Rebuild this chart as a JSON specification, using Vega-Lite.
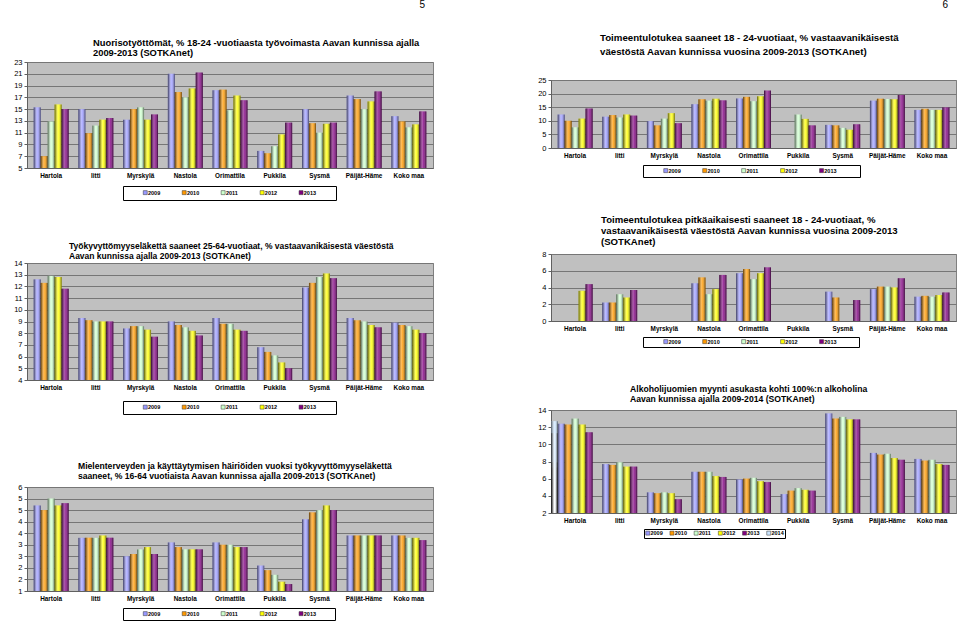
{
  "$schema": "https://vega.github.io/schema/vega-lite/v6.json",
  "background": "white",
  "padding": {"left": 4, "top": 0, "right": 0, "bottom": 0},
  "config": {
    "font": "Liberation Sans",
    "view": {"stroke": null},
    "axis": {"labelColor": "#000", "domainColor": "#606060", "tickColor": "#606060", "gridColor": "#767676", "gridOpacity": 1},
    "axisX": {"labelAngle": 0, "labelFontWeight": "bold", "labelFontSize": 6.4, "ticks": false, "grid": false, "labelPadding": 4.5, "title": null},
    "axisY": {"labelFontSize": 7.5, "tickSize": 3, "labelPadding": 2, "grid": true, "minExtent": 22, "maxExtent": 22, "title": null},
    "title": {"fontWeight": "bold", "color": "#000", "anchor": "start", "frame": "group"},
    "legend": {"orient": "none", "direction": "horizontal", "symbolType": "square", "symbolSize": 16, "symbolStrokeColor": "#333", "symbolStrokeWidth": 0.5, "labelFontSize": 5.5, "labelFontWeight": "bold", "labelColor": "#000", "labelOffset": 0, "strokeColor": "#000", "fillColor": "#fff", "titleOrient": "left", "titleFontSize": 5.5, "titleColor": "#fff"}
  },
  "datasets": {
    "nuoriso": [
      {"kunta":"Hartola","vuosi":"2009","arvo":15.3},{"kunta":"Hartola","vuosi":"2010","arvo":7.0},{"kunta":"Hartola","vuosi":"2011","arvo":12.9},{"kunta":"Hartola","vuosi":"2012","arvo":15.8},{"kunta":"Hartola","vuosi":"2013","arvo":15.0},
      {"kunta":"Iitti","vuosi":"2009","arvo":15.0},{"kunta":"Iitti","vuosi":"2010","arvo":10.9},{"kunta":"Iitti","vuosi":"2011","arvo":12.2},{"kunta":"Iitti","vuosi":"2012","arvo":13.2},{"kunta":"Iitti","vuosi":"2013","arvo":13.5},
      {"kunta":"Myrskylä","vuosi":"2009","arvo":13.2},{"kunta":"Myrskylä","vuosi":"2010","arvo":15.0},{"kunta":"Myrskylä","vuosi":"2011","arvo":15.3},{"kunta":"Myrskylä","vuosi":"2012","arvo":13.2},{"kunta":"Myrskylä","vuosi":"2013","arvo":14.1},
      {"kunta":"Nastola","vuosi":"2009","arvo":21.0},{"kunta":"Nastola","vuosi":"2010","arvo":17.9},{"kunta":"Nastola","vuosi":"2011","arvo":17.0},{"kunta":"Nastola","vuosi":"2012","arvo":18.5},{"kunta":"Nastola","vuosi":"2013","arvo":21.2},
      {"kunta":"Orimattila","vuosi":"2009","arvo":18.2},{"kunta":"Orimattila","vuosi":"2010","arvo":18.3},{"kunta":"Orimattila","vuosi":"2011","arvo":14.8},{"kunta":"Orimattila","vuosi":"2012","arvo":17.3},{"kunta":"Orimattila","vuosi":"2013","arvo":16.5},
      {"kunta":"Pukkila","vuosi":"2009","arvo":7.9},{"kunta":"Pukkila","vuosi":"2010","arvo":7.5},{"kunta":"Pukkila","vuosi":"2011","arvo":8.7},{"kunta":"Pukkila","vuosi":"2012","arvo":10.7},{"kunta":"Pukkila","vuosi":"2013","arvo":12.7},
      {"kunta":"Sysmä","vuosi":"2009","arvo":15.0},{"kunta":"Sysmä","vuosi":"2010","arvo":12.6},{"kunta":"Sysmä","vuosi":"2011","arvo":11.0},{"kunta":"Sysmä","vuosi":"2012","arvo":12.5},{"kunta":"Sysmä","vuosi":"2013","arvo":12.7},
      {"kunta":"Päijät-Häme","vuosi":"2009","arvo":17.3},{"kunta":"Päijät-Häme","vuosi":"2010","arvo":16.7},{"kunta":"Päijät-Häme","vuosi":"2011","arvo":15.0},{"kunta":"Päijät-Häme","vuosi":"2012","arvo":16.3},{"kunta":"Päijät-Häme","vuosi":"2013","arvo":18.0},
      {"kunta":"Koko maa","vuosi":"2009","arvo":13.8},{"kunta":"Koko maa","vuosi":"2010","arvo":12.9},{"kunta":"Koko maa","vuosi":"2011","arvo":11.9},{"kunta":"Koko maa","vuosi":"2012","arvo":12.4},{"kunta":"Koko maa","vuosi":"2013","arvo":14.6}
    ],
    "toimeentulo": [
      {"kunta":"Hartola","vuosi":"2009","arvo":12.3},{"kunta":"Hartola","vuosi":"2010","arvo":10.0},{"kunta":"Hartola","vuosi":"2011","arvo":7.6},{"kunta":"Hartola","vuosi":"2012","arvo":10.8},{"kunta":"Hartola","vuosi":"2013","arvo":14.5},
      {"kunta":"Iitti","vuosi":"2009","arvo":11.5},{"kunta":"Iitti","vuosi":"2010","arvo":12.1},{"kunta":"Iitti","vuosi":"2011","arvo":11.2},{"kunta":"Iitti","vuosi":"2012","arvo":12.3},{"kunta":"Iitti","vuosi":"2013","arvo":11.9},
      {"kunta":"Myrskylä","vuosi":"2009","arvo":9.9},{"kunta":"Myrskylä","vuosi":"2010","arvo":8.3},{"kunta":"Myrskylä","vuosi":"2011","arvo":10.8},{"kunta":"Myrskylä","vuosi":"2012","arvo":12.8},{"kunta":"Myrskylä","vuosi":"2013","arvo":9.1},
      {"kunta":"Nastola","vuosi":"2009","arvo":16.1},{"kunta":"Nastola","vuosi":"2010","arvo":17.9},{"kunta":"Nastola","vuosi":"2011","arvo":17.4},{"kunta":"Nastola","vuosi":"2012","arvo":18.1},{"kunta":"Nastola","vuosi":"2013","arvo":17.5},
      {"kunta":"Orimattila","vuosi":"2009","arvo":18.2},{"kunta":"Orimattila","vuosi":"2010","arvo":18.8},{"kunta":"Orimattila","vuosi":"2011","arvo":17.2},{"kunta":"Orimattila","vuosi":"2012","arvo":19.0},{"kunta":"Orimattila","vuosi":"2013","arvo":21.1},
      {"kunta":"Pukkila","vuosi":"2011","arvo":12.3},{"kunta":"Pukkila","vuosi":"2012","arvo":10.7},{"kunta":"Pukkila","vuosi":"2013","arvo":8.3},
      {"kunta":"Sysmä","vuosi":"2009","arvo":8.5},{"kunta":"Sysmä","vuosi":"2010","arvo":8.3},{"kunta":"Sysmä","vuosi":"2011","arvo":7.4},{"kunta":"Sysmä","vuosi":"2012","arvo":6.7},{"kunta":"Sysmä","vuosi":"2013","arvo":8.7},
      {"kunta":"Päijät-Häme","vuosi":"2009","arvo":17.4},{"kunta":"Päijät-Häme","vuosi":"2010","arvo":18.1},{"kunta":"Päijät-Häme","vuosi":"2011","arvo":18.0},{"kunta":"Päijät-Häme","vuosi":"2012","arvo":17.9},{"kunta":"Päijät-Häme","vuosi":"2013","arvo":19.5},
      {"kunta":"Koko maa","vuosi":"2009","arvo":14.0},{"kunta":"Koko maa","vuosi":"2010","arvo":14.4},{"kunta":"Koko maa","vuosi":"2011","arvo":14.0},{"kunta":"Koko maa","vuosi":"2012","arvo":14.0},{"kunta":"Koko maa","vuosi":"2013","arvo":14.9}
    ],
    "tyokyvyttomyys": [
      {"kunta":"Hartola","vuosi":"2009","arvo":12.6},{"kunta":"Hartola","vuosi":"2010","arvo":12.3},{"kunta":"Hartola","vuosi":"2011","arvo":12.9},{"kunta":"Hartola","vuosi":"2012","arvo":12.8},{"kunta":"Hartola","vuosi":"2013","arvo":11.8},
      {"kunta":"Iitti","vuosi":"2009","arvo":9.3},{"kunta":"Iitti","vuosi":"2010","arvo":9.1},{"kunta":"Iitti","vuosi":"2011","arvo":9.0},{"kunta":"Iitti","vuosi":"2012","arvo":9.0},{"kunta":"Iitti","vuosi":"2013","arvo":9.0},
      {"kunta":"Myrskylä","vuosi":"2009","arvo":8.4},{"kunta":"Myrskylä","vuosi":"2010","arvo":8.6},{"kunta":"Myrskylä","vuosi":"2011","arvo":8.6},{"kunta":"Myrskylä","vuosi":"2012","arvo":8.3},{"kunta":"Myrskylä","vuosi":"2013","arvo":7.7},
      {"kunta":"Nastola","vuosi":"2009","arvo":9.0},{"kunta":"Nastola","vuosi":"2010","arvo":8.7},{"kunta":"Nastola","vuosi":"2011","arvo":8.5},{"kunta":"Nastola","vuosi":"2012","arvo":8.2},{"kunta":"Nastola","vuosi":"2013","arvo":7.8},
      {"kunta":"Orimattila","vuosi":"2009","arvo":9.3},{"kunta":"Orimattila","vuosi":"2010","arvo":8.8},{"kunta":"Orimattila","vuosi":"2011","arvo":8.8},{"kunta":"Orimattila","vuosi":"2012","arvo":8.3},{"kunta":"Orimattila","vuosi":"2013","arvo":8.2},
      {"kunta":"Pukkila","vuosi":"2009","arvo":6.8},{"kunta":"Pukkila","vuosi":"2010","arvo":6.4},{"kunta":"Pukkila","vuosi":"2011","arvo":6.1},{"kunta":"Pukkila","vuosi":"2012","arvo":5.5},{"kunta":"Pukkila","vuosi":"2013","arvo":5.0},
      {"kunta":"Sysmä","vuosi":"2009","arvo":11.9},{"kunta":"Sysmä","vuosi":"2010","arvo":12.3},{"kunta":"Sysmä","vuosi":"2011","arvo":12.8},{"kunta":"Sysmä","vuosi":"2012","arvo":13.1},{"kunta":"Sysmä","vuosi":"2013","arvo":12.7},
      {"kunta":"Päijät-Häme","vuosi":"2009","arvo":9.3},{"kunta":"Päijät-Häme","vuosi":"2010","arvo":9.1},{"kunta":"Päijät-Häme","vuosi":"2011","arvo":9.0},{"kunta":"Päijät-Häme","vuosi":"2012","arvo":8.7},{"kunta":"Päijät-Häme","vuosi":"2013","arvo":8.5},
      {"kunta":"Koko maa","vuosi":"2009","arvo":8.9},{"kunta":"Koko maa","vuosi":"2010","arvo":8.7},{"kunta":"Koko maa","vuosi":"2011","arvo":8.6},{"kunta":"Koko maa","vuosi":"2012","arvo":8.3},{"kunta":"Koko maa","vuosi":"2013","arvo":8.0}
    ],
    "pitkaaikainen": [
      {"kunta":"Hartola","vuosi":"2012","arvo":3.6},{"kunta":"Hartola","vuosi":"2013","arvo":4.4},
      {"kunta":"Iitti","vuosi":"2009","arvo":2.2},{"kunta":"Iitti","vuosi":"2010","arvo":2.2},{"kunta":"Iitti","vuosi":"2011","arvo":3.2},{"kunta":"Iitti","vuosi":"2012","arvo":2.8},{"kunta":"Iitti","vuosi":"2013","arvo":3.7},
      {"kunta":"Nastola","vuosi":"2009","arvo":4.5},{"kunta":"Nastola","vuosi":"2010","arvo":5.2},{"kunta":"Nastola","vuosi":"2011","arvo":3.2},{"kunta":"Nastola","vuosi":"2012","arvo":3.8},{"kunta":"Nastola","vuosi":"2013","arvo":5.5},
      {"kunta":"Orimattila","vuosi":"2009","arvo":5.7},{"kunta":"Orimattila","vuosi":"2010","arvo":6.2},{"kunta":"Orimattila","vuosi":"2011","arvo":5.0},{"kunta":"Orimattila","vuosi":"2012","arvo":5.7},{"kunta":"Orimattila","vuosi":"2013","arvo":6.4},
      {"kunta":"Sysmä","vuosi":"2009","arvo":3.5},{"kunta":"Sysmä","vuosi":"2010","arvo":2.8},{"kunta":"Sysmä","vuosi":"2013","arvo":2.5},
      {"kunta":"Päijät-Häme","vuosi":"2009","arvo":3.8},{"kunta":"Päijät-Häme","vuosi":"2010","arvo":4.1},{"kunta":"Päijät-Häme","vuosi":"2011","arvo":4.1},{"kunta":"Päijät-Häme","vuosi":"2012","arvo":4.0},{"kunta":"Päijät-Häme","vuosi":"2013","arvo":5.1},
      {"kunta":"Koko maa","vuosi":"2009","arvo":2.9},{"kunta":"Koko maa","vuosi":"2010","arvo":3.0},{"kunta":"Koko maa","vuosi":"2011","arvo":2.9},{"kunta":"Koko maa","vuosi":"2012","arvo":3.1},{"kunta":"Koko maa","vuosi":"2013","arvo":3.4}
    ],
    "alkoholi": [
      {"kunta":"Hartola","vuosi":"2009","arvo":12.4},{"kunta":"Hartola","vuosi":"2010","arvo":12.3},{"kunta":"Hartola","vuosi":"2011","arvo":13.0},{"kunta":"Hartola","vuosi":"2012","arvo":12.3},{"kunta":"Hartola","vuosi":"2013","arvo":11.4},{"kunta":"Hartola","vuosi":"2014","arvo":11.3},
      {"kunta":"Iitti","vuosi":"2009","arvo":7.7},{"kunta":"Iitti","vuosi":"2010","arvo":7.6},{"kunta":"Iitti","vuosi":"2011","arvo":7.9},{"kunta":"Iitti","vuosi":"2012","arvo":7.4},{"kunta":"Iitti","vuosi":"2013","arvo":7.4},{"kunta":"Iitti","vuosi":"2014","arvo":7.0},
      {"kunta":"Myrskylä","vuosi":"2009","arvo":4.4},{"kunta":"Myrskylä","vuosi":"2010","arvo":4.3},{"kunta":"Myrskylä","vuosi":"2011","arvo":4.4},{"kunta":"Myrskylä","vuosi":"2012","arvo":4.3},{"kunta":"Myrskylä","vuosi":"2013","arvo":3.6},{"kunta":"Myrskylä","vuosi":"2014","arvo":3.8},
      {"kunta":"Nastola","vuosi":"2009","arvo":6.8},{"kunta":"Nastola","vuosi":"2010","arvo":6.8},{"kunta":"Nastola","vuosi":"2011","arvo":6.8},{"kunta":"Nastola","vuosi":"2012","arvo":6.3},{"kunta":"Nastola","vuosi":"2013","arvo":6.2},{"kunta":"Nastola","vuosi":"2014","arvo":6.0},
      {"kunta":"Orimattila","vuosi":"2009","arvo":5.9},{"kunta":"Orimattila","vuosi":"2010","arvo":6.0},{"kunta":"Orimattila","vuosi":"2011","arvo":6.1},{"kunta":"Orimattila","vuosi":"2012","arvo":5.7},{"kunta":"Orimattila","vuosi":"2013","arvo":5.6},{"kunta":"Orimattila","vuosi":"2014","arvo":5.6},
      {"kunta":"Pukkila","vuosi":"2009","arvo":4.2},{"kunta":"Pukkila","vuosi":"2010","arvo":4.6},{"kunta":"Pukkila","vuosi":"2011","arvo":4.9},{"kunta":"Pukkila","vuosi":"2012","arvo":4.7},{"kunta":"Pukkila","vuosi":"2013","arvo":4.6},{"kunta":"Pukkila","vuosi":"2014","arvo":4.8},
      {"kunta":"Sysmä","vuosi":"2009","arvo":13.6},{"kunta":"Sysmä","vuosi":"2010","arvo":13.0},{"kunta":"Sysmä","vuosi":"2011","arvo":13.2},{"kunta":"Sysmä","vuosi":"2012","arvo":12.9},{"kunta":"Sysmä","vuosi":"2013","arvo":12.9},{"kunta":"Sysmä","vuosi":"2014","arvo":12.7},
      {"kunta":"Päijät-Häme","vuosi":"2009","arvo":9.0},{"kunta":"Päijät-Häme","vuosi":"2010","arvo":8.8},{"kunta":"Päijät-Häme","vuosi":"2011","arvo":8.9},{"kunta":"Päijät-Häme","vuosi":"2012","arvo":8.4},{"kunta":"Päijät-Häme","vuosi":"2013","arvo":8.2},{"kunta":"Päijät-Häme","vuosi":"2014","arvo":7.9},
      {"kunta":"Koko maa","vuosi":"2009","arvo":8.3},{"kunta":"Koko maa","vuosi":"2010","arvo":8.1},{"kunta":"Koko maa","vuosi":"2011","arvo":8.2},{"kunta":"Koko maa","vuosi":"2012","arvo":7.7},{"kunta":"Koko maa","vuosi":"2013","arvo":7.6},{"kunta":"Koko maa","vuosi":"2014","arvo":7.3}
    ],
    "mielenterveys": [
      {"kunta":"Hartola","vuosi":"2009","arvo":4.7},{"kunta":"Hartola","vuosi":"2010","arvo":4.5},{"kunta":"Hartola","vuosi":"2011","arvo":5.0},{"kunta":"Hartola","vuosi":"2012","arvo":4.7},{"kunta":"Hartola","vuosi":"2013","arvo":4.8},
      {"kunta":"Iitti","vuosi":"2009","arvo":3.3},{"kunta":"Iitti","vuosi":"2010","arvo":3.3},{"kunta":"Iitti","vuosi":"2011","arvo":3.3},{"kunta":"Iitti","vuosi":"2012","arvo":3.4},{"kunta":"Iitti","vuosi":"2013","arvo":3.3},
      {"kunta":"Myrskylä","vuosi":"2009","arvo":2.5},{"kunta":"Myrskylä","vuosi":"2010","arvo":2.6},{"kunta":"Myrskylä","vuosi":"2011","arvo":2.8},{"kunta":"Myrskylä","vuosi":"2012","arvo":2.9},{"kunta":"Myrskylä","vuosi":"2013","arvo":2.6},
      {"kunta":"Nastola","vuosi":"2009","arvo":3.1},{"kunta":"Nastola","vuosi":"2010","arvo":2.9},{"kunta":"Nastola","vuosi":"2011","arvo":2.8},{"kunta":"Nastola","vuosi":"2012","arvo":2.8},{"kunta":"Nastola","vuosi":"2013","arvo":2.8},
      {"kunta":"Orimattila","vuosi":"2009","arvo":3.1},{"kunta":"Orimattila","vuosi":"2010","arvo":3.0},{"kunta":"Orimattila","vuosi":"2011","arvo":3.0},{"kunta":"Orimattila","vuosi":"2012","arvo":2.9},{"kunta":"Orimattila","vuosi":"2013","arvo":2.9},
      {"kunta":"Pukkila","vuosi":"2009","arvo":2.1},{"kunta":"Pukkila","vuosi":"2010","arvo":1.9},{"kunta":"Pukkila","vuosi":"2011","arvo":1.7},{"kunta":"Pukkila","vuosi":"2012","arvo":1.4},{"kunta":"Pukkila","vuosi":"2013","arvo":1.3},
      {"kunta":"Sysmä","vuosi":"2009","arvo":4.1},{"kunta":"Sysmä","vuosi":"2010","arvo":4.4},{"kunta":"Sysmä","vuosi":"2011","arvo":4.5},{"kunta":"Sysmä","vuosi":"2012","arvo":4.7},{"kunta":"Sysmä","vuosi":"2013","arvo":4.5},
      {"kunta":"Päijät-Häme","vuosi":"2009","arvo":3.4},{"kunta":"Päijät-Häme","vuosi":"2010","arvo":3.4},{"kunta":"Päijät-Häme","vuosi":"2011","arvo":3.4},{"kunta":"Päijät-Häme","vuosi":"2012","arvo":3.4},{"kunta":"Päijät-Häme","vuosi":"2013","arvo":3.4},
      {"kunta":"Koko maa","vuosi":"2009","arvo":3.4},{"kunta":"Koko maa","vuosi":"2010","arvo":3.4},{"kunta":"Koko maa","vuosi":"2011","arvo":3.3},{"kunta":"Koko maa","vuosi":"2012","arvo":3.3},{"kunta":"Koko maa","vuosi":"2013","arvo":3.2}
    ]
  },
  "spacing": 94,
  "resolve": {"scale": {"color": "independent"}, "legend": {"color": "independent"}},
  "hconcat": [
    {
      "spacing": 0,
      "resolve": {"scale": {"color": "independent"}, "legend": {"color": "independent"}},
      "vconcat": [
        {
          "width": 406, "height": 26,
          "title": {"text": "5", "anchor": "end", "fontWeight": "normal", "fontSize": 10, "offset": 2, "dx": -8},
          "data": {"values": []},
          "mark": "point"
        },
        {
          "width": 406, "height": 106,
          "view": {"fill": "#c0c0c0", "stroke": "#808080"},
          "title": {"text": ["Nuorisotyöttömät, % 18-24 -vuotiaasta työvoimasta Aavan kunnissa ajalla", "2009-2013 (SOTKAnet)"], "dx": 66, "offset": -0.8, "fontSize": 9.35, "lineHeight": 10.5},
          "data": {"name": "nuoriso"},
          "encoding": {
            "x": {"field": "kunta", "type": "nominal", "scale": {"domain": ["Hartola","Iitti","Myrskylä","Nastola","Orimattila","Pukkila","Sysmä","Päijät-Häme","Koko maa"], "paddingInner": 0.22, "paddingOuter": 0.15}, "axis": {"minExtent": 72, "maxExtent": 72}},
            "xOffset": {"field": "vuosi", "type": "nominal", "scale": {"paddingInner": 0, "paddingOuter": 0}},
            "y": {"field": "arvo", "type": "quantitative", "scale": {"domain": [5, 23], "nice": false, "zero": false}, "axis": {"values": [5,7,9,11,13,15,17,19,21,23]}},
            "y2": {"datum": 5}
          },
          "layer": [
            {"mark": {"type": "bar"}, "encoding": {"color": {"field": "vuosi", "type": "nominal", "scale": {"domain": ["2009","2010","2011","2012","2013"], "range": ["#9999ff","#ff9900","#ccffcc","#ffff00","#800080"]}, "legend": {"legendX": 96, "legendY": 124, "columns": 5, "title": "\u2800\u2800\u2800", "titlePadding": 4, "padding": 3.5, "columnPadding": 19.95, "labelExpr": "datum.label == '2013' ? '2013\u2800\u2800\u2800\u2800' : datum.label"}}}},
            {"mark": {"type": "bar", "fill": {"gradient": "linear", "x1": 0, "y1": 0, "x2": 1, "y2": 0, "stops": [{"offset": 0, "color": "rgba(0,0,0,0.65)"}, {"offset": 0.45, "color": "rgba(255,255,255,0.35)"}, {"offset": 0.6, "color": "rgba(255,255,255,0.2)"}, {"offset": 1, "color": "rgba(0,0,0,0.6)"}]}}}
          ]
        },
        {
          "width": 406, "height": 117,
          "view": {"fill": "#c0c0c0", "stroke": "#808080"},
          "title": {"text": ["Työkyvyttömyyseläkettä saaneet 25-64-vuotiaat, % vastaavanikäisestä väestöstä", "Aavan kunnissa ajalla 2009-2013 (SOTKAnet)"], "dx": 42, "offset": -1.45, "fontSize": 8.5, "lineHeight": 10},
          "data": {"name": "tyokyvyttomyys"},
          "encoding": {
            "x": {"field": "kunta", "type": "nominal", "scale": {"domain": ["Hartola","Iitti","Myrskylä","Nastola","Orimattila","Pukkila","Sysmä","Päijät-Häme","Koko maa"], "paddingInner": 0.22, "paddingOuter": 0.15}, "axis": {"minExtent": 79.9, "maxExtent": 79.9}},
            "xOffset": {"field": "vuosi", "type": "nominal", "scale": {"paddingInner": 0, "paddingOuter": 0}},
            "y": {"field": "arvo", "type": "quantitative", "scale": {"domain": [4, 14], "nice": false, "zero": false}, "axis": {"values": [4,5,6,7,8,9,10,11,12,13,14]}},
            "y2": {"datum": 4}
          },
          "layer": [
            {"mark": {"type": "bar"}, "encoding": {"color": {"field": "vuosi", "type": "nominal", "scale": {"domain": ["2009","2010","2011","2012","2013"], "range": ["#9999ff","#ff9900","#ccffcc","#ffff00","#800080"]}, "legend": {"legendX": 96, "legendY": 138, "columns": 5, "title": "\u2800\u2800\u2800", "titlePadding": 4.5, "padding": 3, "columnPadding": 19.95, "labelExpr": "datum.label == '2013' ? '2013\u2800\u2800\u2800\u2800' : datum.label"}}}},
            {"mark": {"type": "bar", "fill": {"gradient": "linear", "x1": 0, "y1": 0, "x2": 1, "y2": 0, "stops": [{"offset": 0, "color": "rgba(0,0,0,0.65)"}, {"offset": 0.45, "color": "rgba(255,255,255,0.35)"}, {"offset": 0.6, "color": "rgba(255,255,255,0.2)"}, {"offset": 1, "color": "rgba(0,0,0,0.6)"}]}}}
          ]
        },
        {
          "width": 406, "height": 104,
          "view": {"fill": "#c0c0c0", "stroke": "#808080"},
          "title": {"text": ["Mielenterveyden ja käyttäytymisen häiriöiden vuoksi työkyvyttömyyseläkettä", "saaneet, % 16-64 vuotiaista Aavan kunnissa ajalla 2009-2013 (SOTKAnet)"], "dx": 51, "offset": 2.55, "fontSize": 8.6, "lineHeight": 10},
          "data": {"name": "mielenterveys"},
          "encoding": {
            "x": {"field": "kunta", "type": "nominal", "scale": {"domain": ["Hartola","Iitti","Myrskylä","Nastola","Orimattila","Pukkila","Sysmä","Päijät-Häme","Koko maa"], "paddingInner": 0.22, "paddingOuter": 0.15}},
            "xOffset": {"field": "vuosi", "type": "nominal", "scale": {"paddingInner": 0, "paddingOuter": 0}},
            "y": {"field": "arvo", "type": "quantitative", "scale": {"domain": [1, 5.5], "nice": false, "zero": false}, "axis": {"values": [1,1.5,2,2.5,3,3.5,4,4.5,5,5.5], "format": ".0f"}},
            "y2": {"datum": 1}
          },
          "layer": [
            {"mark": {"type": "bar"}, "encoding": {"color": {"field": "vuosi", "type": "nominal", "scale": {"domain": ["2009","2010","2011","2012","2013"], "range": ["#9999ff","#ff9900","#ccffcc","#ffff00","#800080"]}, "legend": {"legendX": 96, "legendY": 121, "columns": 5, "title": "\u2800\u2800\u2800", "titlePadding": 5, "padding": 2.5, "columnPadding": 19.95, "labelExpr": "datum.label == '2013' ? '2013\u2800\u2800\u2800\u2800' : datum.label"}}}},
            {"mark": {"type": "bar", "fill": {"gradient": "linear", "x1": 0, "y1": 0, "x2": 1, "y2": 0, "stops": [{"offset": 0, "color": "rgba(0,0,0,0.65)"}, {"offset": 0.45, "color": "rgba(255,255,255,0.35)"}, {"offset": 0.6, "color": "rgba(255,255,255,0.2)"}, {"offset": 1, "color": "rgba(0,0,0,0.6)"}]}}}
          ]
        }
      ]
    },
    {
      "spacing": 0,
      "resolve": {"scale": {"color": "independent"}, "legend": {"color": "independent"}},
      "vconcat": [
        {
          "width": 405, "height": 19.7,
          "title": {"text": "6", "anchor": "end", "fontWeight": "normal", "fontSize": 10, "offset": 2, "dx": -8},
          "data": {"values": []},
          "mark": "point"
        },
        {
          "width": 405, "height": 68,
          "view": {"fill": "#c0c0c0", "stroke": "#808080"},
          "title": {"text": ["Toimeentulotukea saaneet 18 - 24-vuotiaat, % vastaavanikäisestä", "väestöstä Aavan kunnissa vuosina 2009-2013 (SOTKAnet)"], "dx": 49, "offset": 18.9, "fontSize": 9.7, "lineHeight": 14.7},
          "data": {"name": "toimeentulo"},
          "encoding": {
            "x": {"field": "kunta", "type": "nominal", "scale": {"domain": ["Hartola","Iitti","Myrskylä","Nastola","Orimattila","Pukkila","Sysmä","Päijät-Häme","Koko maa"], "paddingInner": 0.22, "paddingOuter": 0.15}, "axis": {"minExtent": 64.7, "maxExtent": 64.7}},
            "xOffset": {"field": "vuosi", "type": "nominal", "scale": {"domain": ["2009","2010","2011","2012","2013"], "paddingInner": 0, "paddingOuter": 0}},
            "y": {"field": "arvo", "type": "quantitative", "scale": {"domain": [0, 25], "nice": false}, "axis": {"values": [0,5,10,15,20,25]}},
            "y2": {"datum": 0}
          },
          "layer": [
            {"mark": {"type": "bar"}, "encoding": {"color": {"field": "vuosi", "type": "nominal", "scale": {"domain": ["2009","2010","2011","2012","2013"], "range": ["#9999ff","#ff9900","#ccffcc","#ffff00","#800080"]}, "legend": {"legendX": 92, "legendY": 85, "columns": 5, "title": "\u2800\u2800\u2800", "titlePadding": 5.5, "padding": 2.5, "columnPadding": 19.95, "labelExpr": "datum.label == '2013' ? '2013\u2800\u2800\u2800\u2800\u2800' : datum.label"}}}},
            {"mark": {"type": "bar", "fill": {"gradient": "linear", "x1": 0, "y1": 0, "x2": 1, "y2": 0, "stops": [{"offset": 0, "color": "rgba(0,0,0,0.65)"}, {"offset": 0.45, "color": "rgba(255,255,255,0.35)"}, {"offset": 0.6, "color": "rgba(255,255,255,0.2)"}, {"offset": 1, "color": "rgba(0,0,0,0.6)"}]}}}
          ]
        },
        {
          "width": 405, "height": 67,
          "view": {"fill": "#c0c0c0", "stroke": "#808080"},
          "title": {"text": ["Toimeentulotukea pitkäaikaisesti saaneet 18 - 24-vuotiaat, %", "vastaavanikäisestä väestöstä Aavan kunnissa vuosina 2009-2013", "(SOTKAnet)"], "dx": 50, "offset": 3.05, "fontSize": 9.6, "lineHeight": 11.35},
          "data": {"name": "pitkaaikainen"},
          "encoding": {
            "x": {"field": "kunta", "type": "nominal", "scale": {"domain": ["Hartola","Iitti","Myrskylä","Nastola","Orimattila","Pukkila","Sysmä","Päijät-Häme","Koko maa"], "paddingInner": 0.22, "paddingOuter": 0.15}, "axis": {"minExtent": 62.1, "maxExtent": 62.1}},
            "xOffset": {"field": "vuosi", "type": "nominal", "scale": {"domain": ["2009","2010","2011","2012","2013"], "paddingInner": 0, "paddingOuter": 0}},
            "y": {"field": "arvo", "type": "quantitative", "scale": {"domain": [0, 8], "nice": false}, "axis": {"values": [0,2,4,6,8]}},
            "y2": {"datum": 0}
          },
          "layer": [
            {"mark": {"type": "bar"}, "encoding": {"color": {"field": "vuosi", "type": "nominal", "scale": {"domain": ["2009","2010","2011","2012","2013"], "range": ["#9999ff","#ff9900","#ccffcc","#ffff00","#800080"]}, "legend": {"legendX": 92, "legendY": 83, "columns": 5, "title": "\u2800\u2800\u2800", "titlePadding": 6.5, "padding": 1.5, "columnPadding": 19.95, "labelExpr": "datum.label == '2013' ? '2013\u2800\u2800\u2800\u2800\u2800' : datum.label"}}}},
            {"mark": {"type": "bar", "fill": {"gradient": "linear", "x1": 0, "y1": 0, "x2": 1, "y2": 0, "stops": [{"offset": 0, "color": "rgba(0,0,0,0.65)"}, {"offset": 0.45, "color": "rgba(255,255,255,0.35)"}, {"offset": 0.6, "color": "rgba(255,255,255,0.2)"}, {"offset": 1, "color": "rgba(0,0,0,0.6)"}]}}}
          ]
        },
        {
          "width": 405, "height": 103,
          "view": {"fill": "#c0c0c0", "stroke": "#808080"},
          "title": {"text": ["Alkoholijuomien myynti asukasta kohti 100%:n alkoholina", "Aavan kunnissa ajalla 2009-2014 (SOTKAnet)"], "dx": 79, "offset": 2.8, "fontSize": 8.65, "lineHeight": 9.5},
          "data": {"name": "alkoholi"},
          "encoding": {
            "x": {"field": "kunta", "type": "nominal", "scale": {"domain": ["Hartola","Iitti","Myrskylä","Nastola","Orimattila","Pukkila","Sysmä","Päijät-Häme","Koko maa"], "paddingInner": 0.22, "paddingOuter": 0.15}},
            "xOffset": {"field": "vuosi", "type": "nominal", "scale": {"paddingInner": 0, "paddingOuter": 0}},
            "y": {"field": "arvo", "type": "quantitative", "scale": {"domain": [2, 14], "nice": false, "zero": false}, "axis": {"values": [2,4,6,8,10,12,14]}},
            "y2": {"datum": 2}
          },
          "layer": [
            {"mark": {"type": "bar"}, "encoding": {"color": {"field": "vuosi", "type": "nominal", "scale": {"domain": ["2009","2010","2011","2012","2013","2014"], "range": ["#9999ff","#ff9900","#ccffcc","#ffff00","#800080","#cce6ff"]}, "legend": {"legendX": 93, "legendY": 119, "columns": 6, "title": null, "padding": 1, "columnPadding": 5.2}}}},
            {"mark": {"type": "bar", "fill": {"gradient": "linear", "x1": 0, "y1": 0, "x2": 1, "y2": 0, "stops": [{"offset": 0, "color": "rgba(0,0,0,0.65)"}, {"offset": 0.45, "color": "rgba(255,255,255,0.35)"}, {"offset": 0.6, "color": "rgba(255,255,255,0.2)"}, {"offset": 1, "color": "rgba(0,0,0,0.6)"}]}}}
          ]
        }
      ]
    }
  ]
}
